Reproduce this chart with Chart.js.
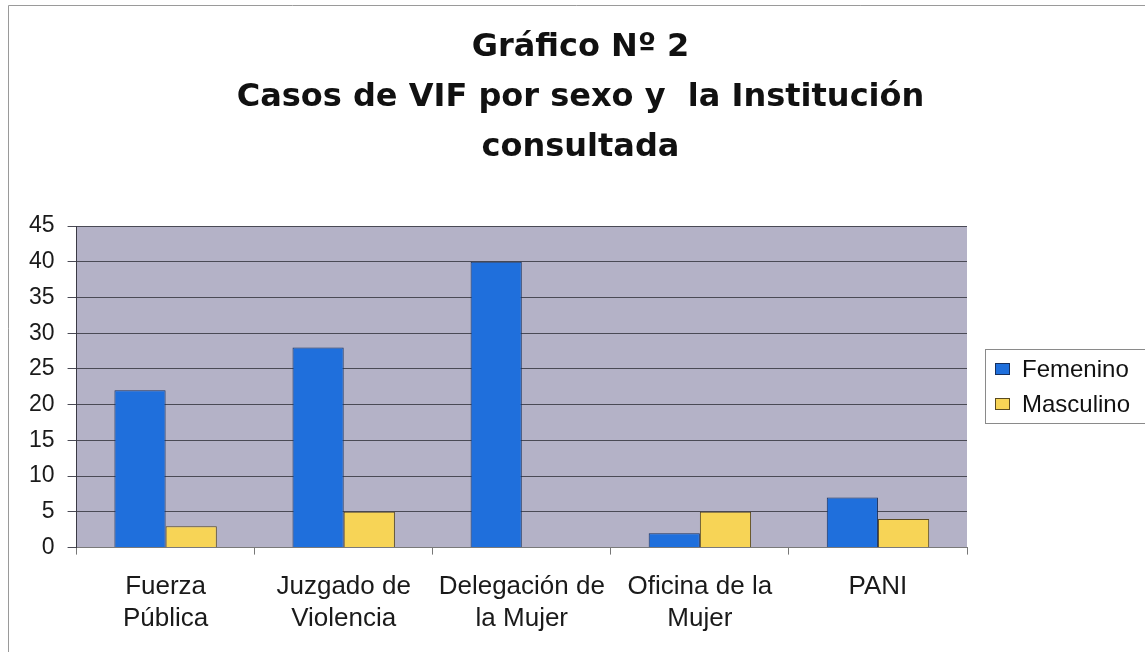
<!DOCTYPE html>
<html>
<head>
<meta charset="utf-8">
<script src="https://cdn.jsdelivr.net/npm/chart.js@4"></script>
<style>
  html, body { margin: 0; padding: 0; background: #ffffff; }
  #wrap { width: 1145px; height: 652px; position: relative; }
</style>
</head>
<body>
<div id="wrap"><canvas id="c" width="1145" height="652"></canvas></div>
<script>
const titleLines = ['Gráfico Nº 2', 'Casos de VIF por sexo y  la Institución', 'consultada'];
const categories = [
  ['Fuerza', 'Pública'],
  ['Juzgado de', 'Violencia'],
  ['Delegación de', 'la Mujer'],
  ['Oficina de la', 'Mujer'],
  ['PANI']
];
const seriesNames = ['Femenino', 'Masculino'];
const femenino = [22, 28, 40, 2, 7];
const masculino = [3, 5, 0, 5, 4];
const yTicks = [0, 5, 10, 15, 20, 25, 30, 35, 40, 45];

const FONT = "'Liberation Sans', Arial, sans-serif";
const TITLE_FONT = "'DejaVu Sans', 'Liberation Sans', sans-serif";

const plotBg = {
  id: 'plotBg',
  beforeDraw(chart) {
    const { ctx, chartArea: a } = chart;
    ctx.save();
    ctx.fillStyle = '#b4b2c7';
    ctx.fillRect(a.left, a.top, a.right - a.left, a.bottom - a.top);
    ctx.restore();
  }
};

const frame = {
  id: 'frame',
  afterDraw(chart) {
    const { ctx } = chart;
    ctx.save();
    ctx.strokeStyle = '#9a9a9a';
    ctx.lineWidth = 1;
    ctx.beginPath();
    ctx.moveTo(8.5, 652);
    ctx.lineTo(8.5, 5.5);
    ctx.lineTo(1145, 5.5);
    ctx.stroke();
    ctx.restore();
  }
};

// Legend box drawn beside the plot, items taken from the chart's datasets
const sideLegend = {
  id: 'sideLegend',
  afterDraw(chart) {
    const { ctx, chartArea: a } = chart;
    const ds = chart.data.datasets;
    const rowH = 35;
    const boxLeft = a.right + 18;
    const cy = (a.top + a.bottom) / 2;
    const boxTop = Math.round(cy - 38);
    const boxH = 74;
    ctx.save();
    ctx.strokeStyle = '#8a8a8a';
    ctx.lineWidth = 1;
    ctx.strokeRect(boxLeft + 0.5, boxTop + 0.5, 200, boxH);
    ctx.font = '24px ' + FONT;
    ctx.textBaseline = 'middle';
    ctx.textAlign = 'left';
    ds.forEach((d, i) => {
      const y = boxTop + 20 + i * rowH;
      ctx.fillStyle = d.backgroundColor;
      ctx.fillRect(boxLeft + 10, y - 6, 15, 12);
      ctx.strokeStyle = d.borderColor;
      ctx.strokeRect(boxLeft + 10.5, y - 5.5, 14, 11);
      ctx.fillStyle = '#111111';
      ctx.fillText(d.label, boxLeft + 37, y + 1);
    });
    ctx.restore();
  }
};

new Chart(document.getElementById('c'), {
  type: 'bar',
  data: {
    labels: categories,
    datasets: [
      { label: seriesNames[0], data: femenino, backgroundColor: '#1f6fdc', borderColor: '#17305e', borderWidth: 1 },
      { label: seriesNames[1], data: masculino, backgroundColor: '#f7d456', borderColor: '#5a4a20', borderWidth: 1 }
    ]
  },
  options: {
    responsive: false,
    animation: false,
    devicePixelRatio: 1,
    layout: { padding: { left: 16, right: 0, bottom: 1, top: 0 } },
    datasets: { bar: { categoryPercentage: 0.575, barPercentage: 1.0 } },
    plugins: {
      title: {
        display: true,
        text: titleLines,
        color: '#111111',
        font: { family: TITLE_FONT, size: 32, weight: 'bold', lineHeight: 1.5625 },
        padding: { top: 23, bottom: 53 }
      },
      legend: { display: false },
      tooltip: { enabled: false }
    },
    scales: {
      x: {
        grid: { display: true, drawOnChartArea: false, drawTicks: true, tickLength: 7, color: '#777777', offset: true },
        border: { display: true, color: '#7a7a7a' },
        ticks: {
          color: '#1a1a1a',
          font: { family: FONT, size: 26, lineHeight: 1.2 },
          padding: 17,
          maxRotation: 0,
          autoSkip: false
        }
      },
      y: {
        min: 0,
        max: 45,
        afterBuildTicks(scale) { scale.ticks = yTicks.map(v => ({ value: v })); },
        grid: { color: '#4a4a55', lineWidth: 1, tickLength: 9, drawTicks: true },
        border: { display: true, color: '#3a3a44' },
        ticks: {
          color: '#1a1a1a',
          font: { family: FONT, size: 23 },
          padding: 13
        }
      },
      legendSpace: {
        type: 'linear',
        position: 'right',
        display: true,
        grid: { drawOnChartArea: false, drawTicks: false, display: false },
        border: { display: false },
        ticks: { display: false },
        afterFit(scale) { scale.width = 178; }
      }
    }
  },
  plugins: [plotBg, frame, sideLegend]
});
</script>
</body>
</html>
